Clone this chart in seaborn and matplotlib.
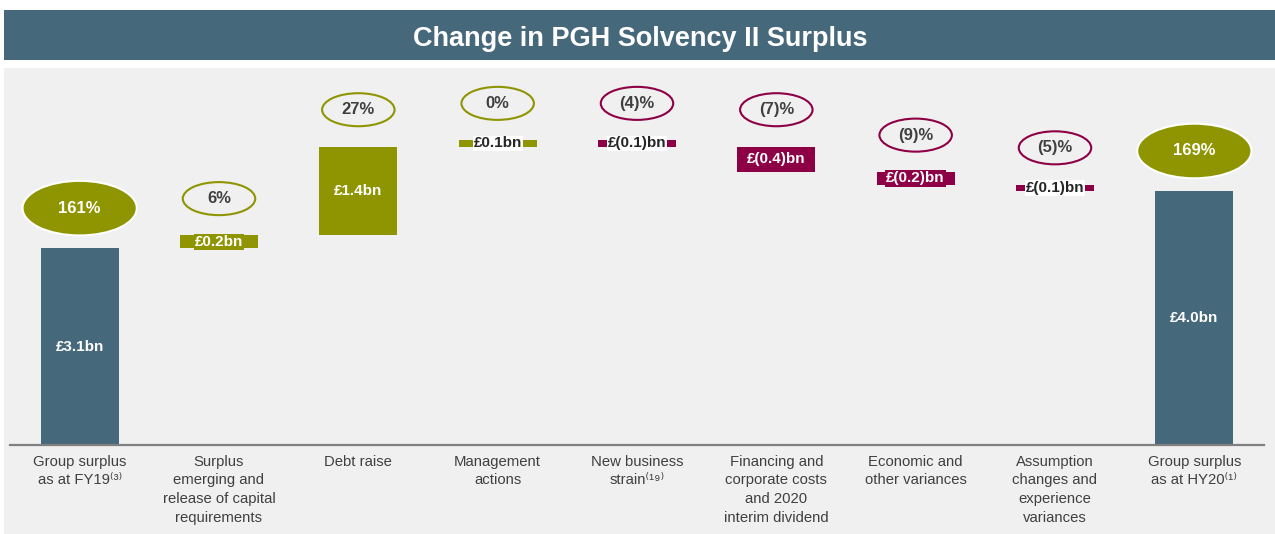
import numpy as np
import pandas as pd
import matplotlib
matplotlib.use("Agg")
import matplotlib.pyplot as plt
from matplotlib.patches import Ellipse, Rectangle
import seaborn as sns

# ---------------- data ----------------
categories = [
    "Group surplus\nas at FY19⁽³⁾",
    "Surplus\nemerging and\nrelease of capital\nrequirements",
    "Debt raise",
    "Management\nactions",
    "New business\nstrain⁽¹⁹⁾",
    "Financing and\ncorporate costs\nand 2020\ninterim dividend",
    "Economic and\nother variances",
    "Assumption\nchanges and\nexperience\nvariances",
    "Group surplus\nas at HY20⁽¹⁾",
]
values = [3.1, 0.2, 1.4, 0.1, -0.1, -0.4, -0.2, -0.1, 4.0]
is_total = [True, False, False, False, False, False, False, False, True]
bar_labels = ["£3.1bn", "£0.2bn", "£1.4bn", "£0.1bn", "£(0.1)bn",
              "£(0.4)bn", "£(0.2)bn", "£(0.1)bn", "£4.0bn"]
pct_labels = ["161%", "6%", "27%", "0%", "(4)%", "(7)%", "(9)%", "(5)%", "169%"]
title = "Change in PGH Solvency II Surplus"

# ---------------- style ----------------
STEEL = "#46687b"
OLIVE = "#8e9500"
MAGENTA = "#8e0046"
PANEL = "#f0f0f0"
TXT = "#404040"

sns.set_theme(style="white")
plt.rcParams["font.family"] = ["Liberation Sans", "DejaVu Sans"]

# ---------------- waterfall geometry from values ----------------
bottoms, heights, kinds = [], [], []
run = 0.0
for v, t in zip(values, is_total):
    if t:
        bottoms.append(0.0)
        heights.append(v)
        kinds.append("total")
        run = v
    else:
        new = run + v
        bottoms.append(min(run, new))
        heights.append(abs(v))
        kinds.append("up" if v > 0 else "down")
        run = new
bottoms = np.round(bottoms, 6)
heights = np.round(heights, 6)
color_of = {"total": STEEL, "up": OLIVE, "down": MAGENTA}
colors = [color_of[k] for k in kinds]

df = pd.DataFrame({"category": categories, "height": heights})

W, H = 1275, 534
fig = plt.figure(figsize=(W / 100, H / 100), dpi=100)
fig.patch.set_facecolor("white")

# grey panel and title banner
fig.patches.append(Rectangle((4 / W, 0), 1 - 4 / W, (H - 68) / H,
                             transform=fig.transFigure, fc=PANEL, ec="none", zorder=-2))
fig.patches.append(Rectangle((4 / W, (H - 60) / H), 1 - 4 / W, 50 / H,
                             transform=fig.transFigure, fc=STEEL, ec="none", zorder=-2))
fig.text(640 / W, 1 - 46 / H, title, ha="center", va="baseline",
         color="white", fontsize=19.5, fontweight="bold")

ax = fig.add_axes([10 / W, (H - 445) / H, (1264 - 10) / W, (445 - 68) / H])
ax.set_facecolor("none")

sns.barplot(data=df, x="category", y="height", order=categories, width=0.56,
            errorbar=None, bottom=bottoms, color=STEEL, saturation=1, ax=ax, zorder=2)
for p, c in zip(ax.patches, colors):
    p.set_facecolor(c)
    p.set_edgecolor("none")

ax.set_xlim(-0.5, 8.5)
ax.set_ylim(0, (445 - 68) / 63.5)
ax.set_yticks([])
ax.set_xlabel("")
ax.set_ylabel("")
for s in ["left", "top", "right"]:
    ax.spines[s].set_visible(False)
ax.spines["bottom"].set_color("#7f7f7f")
ax.spines["bottom"].set_linewidth(1.6)
ax.tick_params(axis="x", length=0, pad=7, labelsize=10.7, labelcolor=TXT)
for lab in ax.get_xticklabels():
    lab.set_linespacing(1.42)

# value labels and percentage ellipses
for i in range(len(values)):
    b, h, k = bottoms[i], heights[i], kinds[i]
    cy = b + h / 2
    small = (k != "total") and h < 0.15
    if small:
        ax.text(i, cy, bar_labels[i], ha="center", va="center", fontsize=11,
                fontweight="bold", color="#262626", zorder=4,
                bbox=dict(boxstyle="square,pad=0.05", fc="white", ec="none"))
    else:
        ax.text(i, cy, bar_labels[i], ha="center", va="center", fontsize=11,
                fontweight="bold", color="white", zorder=4,
                bbox=dict(boxstyle="square,pad=0.08", fc=colors[i], ec="none"))

    top = b + h
    if k == "total":
        ew, eh = 0.82, 0.86
        e = Ellipse((i, top + 0.2 + eh / 2), ew, eh, fc=OLIVE, ec="white",
                    lw=1.5, zorder=3, clip_on=False)
        tcol = "white"
    else:
        ew, eh = 0.52, 0.52
        e = Ellipse((i, top + 0.32 + eh / 2), ew, eh, fc="none",
                    ec=OLIVE if k == "up" else MAGENTA, lw=1.5, zorder=3, clip_on=False)
        tcol = TXT
    ax.add_patch(e)
    ax.text(i, e.center[1], pct_labels[i], ha="center", va="center",
            fontsize=12, fontweight="bold", color=tcol, zorder=5)

fig.savefig("out.png", dpi=100, facecolor=fig.get_facecolor())
